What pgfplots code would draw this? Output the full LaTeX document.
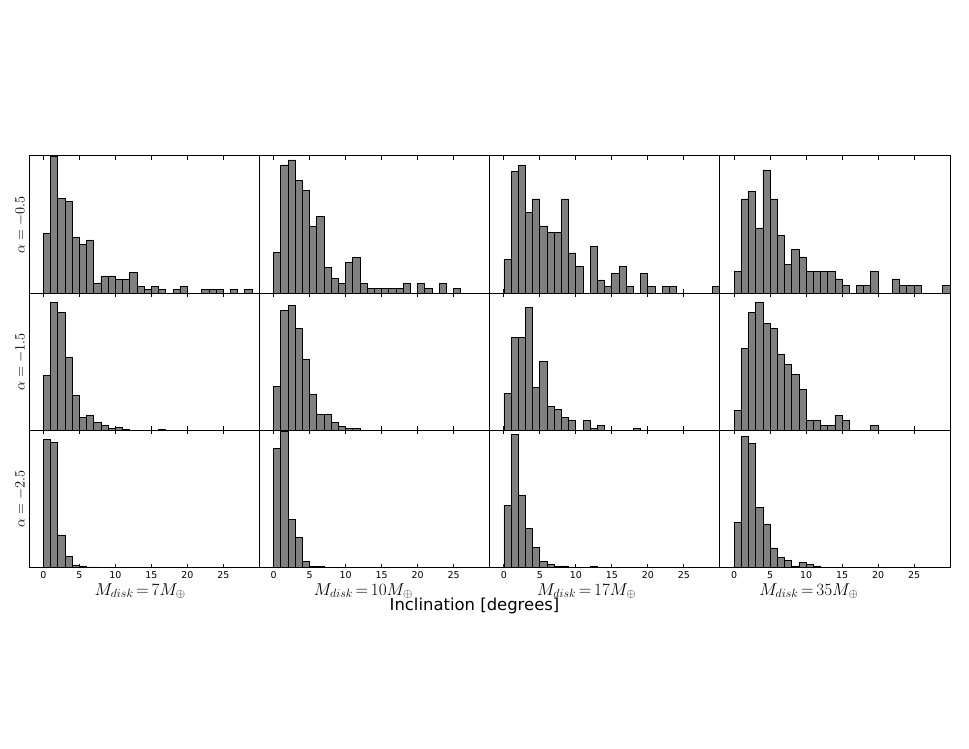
\documentclass[border=0pt]{standalone}
\usepackage[no-math]{fontspec}
\setmainfont{DejaVu Sans}
\usepackage{pgfplots}
\pgfplotsset{compat=1.18}
\usepgfplotslibrary{groupplots}
\definecolor{BarGray}{HTML}{808080}

\pgfplotsset{
  histbar/.style={ybar, bar width=1, bar shift=0pt, fill=BarGray, draw=black, line width=0.75pt},
  diskx/.style={xlabel style={xshift=#1}},
}

\begin{document}
\begin{tikzpicture}
\begin{groupplot}[
  group style={group size=4 by 3, horizontal sep=0pt, vertical sep=0pt, xticklabels at=edge bottom},
  width=230.25bp, height=137.2bp, scale only axis,
  xmin=-2, xmax=30, ymin=0, ymax=412,
  enlargelimits=false,
  xtick={0,5,...,25}, ytick=\empty,
  tick align=inside, xtick pos=both, major tick length=4bp,
  axis line style={line width=1pt},
  tick style={line width=0.8pt, black},
  xticklabel style={font=\fontsize{9.5}{11}\selectfont, yshift=-1.5bp, inner sep=2.5bp},
  /pgf/number format/assume math mode=true,
  ylabel style={font=\fontsize{15.5}{18}\selectfont, at={(rel axis cs:0,0.5)}, anchor=south, inner sep=3bp},
  xlabel style={font=\fontsize{17}{20}\selectfont, at={(rel axis cs:0.5,0)}, anchor=north, inner sep=0pt, yshift=-15.5bp},
]
% row 1: alpha = -0.5
\nextgroupplot[ylabel={$\alpha = -0.5$}]
\addplot[histbar] coordinates {(0.5,180) (1.5,412) (2.5,285) (3.5,275) (4.5,168) (5.5,147) (6.5,160) (7.5,31) (8.5,52) (9.5,52) (10.5,42) (11.5,42) (12.5,63) (13.5,21) (14.5,10) (15.5,21) (16.5,10) (18.5,10) (19.5,21) (22.5,10) (23.5,10) (24.5,10) (26.5,10) (28.5,10)};
\nextgroupplot
\addplot[histbar] coordinates {(0.5,123) (1.5,385) (2.5,400) (3.5,339) (4.5,308) (5.5,200) (6.5,231) (7.5,77) (8.5,46) (9.5,30) (10.5,92) (11.5,108) (12.5,30) (13.5,15) (14.5,15) (15.5,15) (16.5,15) (17.5,15) (18.5,30) (20.5,30) (21.5,15) (23.5,30) (25.5,15)};
\nextgroupplot
\addplot[histbar] coordinates {(0.5,102) (1.5,365) (2.5,385) (3.5,243) (4.5,283) (5.5,202) (6.5,182) (7.5,182) (8.5,283) (9.5,121) (10.5,81) (12.5,141) (13.5,40) (14.5,20) (15.5,60) (16.5,81) (17.5,20) (19.5,60) (20.5,20) (22.5,20) (23.5,20) (29.5,20)};
\nextgroupplot
\addplot[histbar] coordinates {(0.5,65) (1.5,283) (2.5,305) (3.5,196) (4.5,370) (5.5,283) (6.5,174) (7.5,87) (8.5,131) (9.5,109) (10.5,65) (11.5,65) (12.5,65) (13.5,65) (14.5,43) (15.5,22) (17.5,22) (18.5,22) (19.5,65) (22.5,43) (23.5,22) (24.5,22) (25.5,22) (29.5,22)};
% row 2: alpha = -1.5
\nextgroupplot[ylabel={$\alpha = -1.5$}]
\addplot[histbar] coordinates {(0.5,166) (1.5,385) (2.5,355) (3.5,218) (4.5,104) (5.5,40) (6.5,46) (7.5,23) (8.5,14) (9.5,6) (10.5,10) (11.5,4) (16.5,4)};
\nextgroupplot
\addplot[histbar] coordinates {(0.5,133) (1.5,361) (2.5,375) (3.5,307) (4.5,214) (5.5,107) (6.5,47) (7.5,47) (8.5,25) (9.5,13) (10.5,7) (11.5,7)};
\nextgroupplot
\addplot[histbar] coordinates {(0.5,112) (1.5,280) (2.5,280) (3.5,368) (4.5,128) (5.5,208) (6.5,73) (7.5,64) (8.5,40) (9.5,31) (11.5,31) (12.5,7) (13.5,16) (18.5,7)};
\nextgroupplot
\addplot[histbar] coordinates {(0.5,61) (1.5,245) (2.5,353) (3.5,383) (4.5,322) (5.5,306) (6.5,229) (7.5,199) (8.5,168) (9.5,122) (10.5,30) (11.5,30) (12.5,15) (13.5,15) (14.5,46) (15.5,30) (19.5,15)};
% row 3: alpha = -2.5
\nextgroupplot[ylabel={$\alpha = -2.5$}, xlabel={$M_{disk}\mkern-2mu=\mkern-2mu7M_{\oplus}$}, diskx=-4bp]
\addplot[histbar] coordinates {(0.5,385) (1.5,376) (2.5,98) (3.5,34) (4.5,8) (5.5,5) (6.5,2) (7.5,2)};
\nextgroupplot[xlabel={$M_{disk}\mkern-2mu=\mkern-2mu10M_{\oplus}$}, diskx=-11bp]
\addplot[histbar] coordinates {(0.5,358) (1.5,410) (2.5,144) (3.5,91) (4.5,18) (5.5,3) (6.5,3)};
\nextgroupplot[xlabel={$M_{disk}\mkern-2mu=\mkern-2mu17M_{\oplus}$}, diskx=-18bp]
\addplot[histbar] coordinates {(0.5,186) (1.5,401) (2.5,218) (3.5,117) (4.5,60) (5.5,19) (6.5,9) (7.5,3) (8.5,5) (12.5,3)};
\nextgroupplot[xlabel={$M_{disk}\mkern-2mu=\mkern-2mu35M_{\oplus}$}, diskx=-26bp]
\addplot[histbar] coordinates {(0.5,136) (1.5,394) (2.5,372) (3.5,180) (4.5,131) (5.5,59) (6.5,31) (7.5,21) (8.5,5) (9.5,16) (10.5,10) (11.5,5)};
\end{groupplot}
\path (group c1r3.south west) ++(-29bp,-181.3bp) (group c4r1.north east) ++(19bp,156bp);
\node[font=\fontsize{16.5}{20}\selectfont] at ([shift={(445.5bp,-38.5bp)}]group c1r3.south west) {Inclination [degrees]};
\end{tikzpicture}
\end{document}
